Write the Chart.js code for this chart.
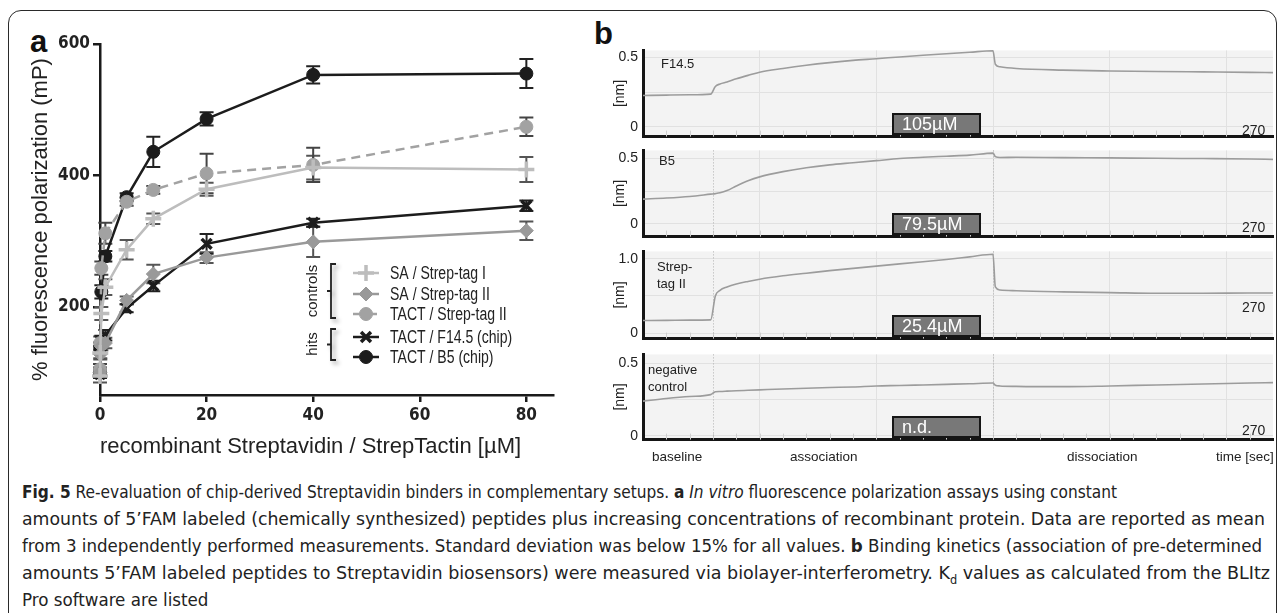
<!DOCTYPE html>
<html><head><meta charset="utf-8">
<script src="https://cdn.jsdelivr.net/npm/chart.js@4.4.1/dist/chart.umd.min.js"></script>
<style>
html,body{margin:0;padding:0;background:#fff;}
body{width:1285px;height:613px;overflow:hidden;position:relative;font-family:'Liberation Sans',Arial,sans-serif;color:#222;}
.frame{position:absolute;left:8px;top:10px;width:1267px;height:660px;border:1.6px solid #2a2a2a;border-radius:13px;}
canvas{position:absolute;}
.t{position:absolute;white-space:nowrap;line-height:1;}
.pl{font-weight:bold;font-size:31px;color:#111;}
.nm{font-size:13px;color:#222;}
.kd{position:absolute;left:892px;width:85px;height:18px;background:#787878;border:2.5px solid #151515;color:#fff;font-size:18px;line-height:18px;}
.kd span{position:absolute;left:8px;top:0px;}
.end{font-size:14px;color:#222;left:1242px;}
.bl{font-size:13.5px;color:#222;top:450px;}
.cap{position:absolute;left:22px;top:478px;font-family:'DejaVu Sans Condensed',sans-serif;font-size:18.5px;line-height:27px;color:#222;}
.cap div{white-space:nowrap;transform-origin:0 0;width:max-content;}
.cap sub{font-size:12px;line-height:0;}
</style>
</head><body>
<div class="frame"></div>
<div class="t pl" style="left:30px;top:26px;">a</div>
<div class="t pl" style="left:594px;top:18px;">b</div>
<canvas id="pa" width="570" height="470" style="left:0;top:0;"></canvas>
<canvas id="b1" width="676" height="113" style="left:600px;top:37px;"></canvas>
<canvas id="b2" width="676" height="113" style="left:600px;top:137px;"></canvas>
<canvas id="b3" width="676" height="114" style="left:600px;top:238px;"></canvas>
<canvas id="b4" width="676" height="112" style="left:600px;top:341px;"></canvas>

<div class="t nm" style="left:661px;top:57px;">F14.5</div>
<div class="t nm" style="left:659px;top:154px;">B5</div>
<div class="t nm" style="left:657px;top:260px;">Strep-</div>
<div class="t nm" style="left:657px;top:277px;">tag II</div>
<div class="t nm" style="left:648px;top:363px;">negative</div>
<div class="t nm" style="left:648px;top:380px;">control</div>

<div class="kd" style="top:113px;"><span>105µM</span></div>
<div class="kd" style="top:213px;"><span>79.5µM</span></div>
<div class="kd" style="top:315px;"><span>25.4µM</span></div>
<div class="kd" style="top:416px;"><span>n.d.</span></div>

<div class="t end" style="top:123px;">270</div>
<div class="t end" style="top:220px;">270</div>
<div class="t end" style="top:300px;">270</div>
<div class="t end" style="top:423px;">270</div>

<div class="t bl" style="left:652px;">baseline</div>
<div class="t bl" style="left:790px;">association</div>
<div class="t bl" style="left:1067px;">dissociation</div>
<div class="t bl" style="left:1216px;">time [sec]</div>

<div class="cap" id="cap">
<div data-w="1095"><b>Fig. 5</b> Re-evaluation of chip-derived Streptavidin binders in complementary setups. <b>a</b> <i>In vitro</i> fluorescence polarization assays using constant</div>
<div data-w="1243">amounts of 5’FAM labeled (chemically synthesized) peptides plus increasing concentrations of recombinant protein. Data are reported as mean</div>
<div data-w="1240">from 3 independently performed measurements. Standard deviation was below 15% for all values. <b>b</b> Binding kinetics (association of pre-determined</div>
<div data-w="1248">amounts 5’FAM labeled peptides to Streptavidin biosensors) were measured via biolayer-interferometry. K<sub>d</sub> values as calculated from the BLItz</div>
<div data-s="1">Pro software are listed</div>
</div>

<script>
// ---------- Panel a data ----------
const concX = [0, 0.05, 0.25, 1, 5, 10, 20, 40, 80];
const saStrepTag1 = [95, 130, 190, 230, 287, 334, 379, 412, 409];
const saStrepTag1Err = [10, 10, 10, 12, 15, 8, 10, 18, 19];
const saStrepTag2 = [100, 128, 140, 145, 210, 250, 275, 299, 316];
const saStrepTag2Err = [6, 6, 6, 8, 6, 14, 8, 23, 14];
const tactStrepTag2 = [105, 145, 259, 312, 360, 378, 403, 416, 474];
const tactStrepTag2Err = [8, 10, 10, 16, 6, 6, 30, 26, 14];
const tactF145 = [98, 135, 148, 157, 198, 232, 296, 328, 354];
const tactF145Err = [5, 6, 8, 8, 6, 8, 15, 6, 8];
const tactB5 = [100, 138, 223, 277, 367, 436, 486, 553, 555];
const tactB5Err = [8, 8, 10, 8, 6, 23, 10, 13, 22];
const seriesLabels = ['SA / Strep-tag I', 'SA / Strep-tag II', 'TACT / Strep-tag II', 'TACT / F14.5 (chip)', 'TACT / B5 (chip)'];
const yTicksA = [200, 400, 600];
const xTicksA = [0, 20, 40, 60, 80];

// ---------- Panel b data ----------
const sensorTime = [0,10,20,29,31,33,36,40,45,50,60,70,80,90,100,110,120,130,140,150,151,153,160,180,200,220,240,260,270];
const traceF145 = [0.225,0.228,0.23,0.235,0.29,0.308,0.322,0.345,0.37,0.393,0.42,0.443,0.462,0.478,0.49,0.503,0.515,0.526,0.537,0.548,0.45,0.432,0.42,0.408,0.402,0.398,0.395,0.392,0.39];
const traceB5 = [0.19,0.198,0.21,0.228,0.232,0.238,0.255,0.29,0.33,0.36,0.4,0.43,0.452,0.468,0.484,0.5,0.51,0.518,0.526,0.542,0.515,0.508,0.51,0.507,0.505,0.502,0.5,0.497,0.493];
const traceStrepTag2 = [0.17,0.172,0.175,0.178,0.5,0.575,0.62,0.66,0.695,0.725,0.77,0.805,0.84,0.87,0.9,0.93,0.96,0.99,1.025,1.06,0.62,0.58,0.57,0.555,0.545,0.535,0.535,0.54,0.54];
const traceNegative = [0.24,0.258,0.272,0.285,0.305,0.307,0.309,0.312,0.315,0.318,0.324,0.329,0.334,0.338,0.345,0.348,0.352,0.356,0.36,0.365,0.35,0.345,0.342,0.34,0.345,0.352,0.358,0.365,0.368];
const phaseBounds = [30, 150];
const gridTimes = [50, 100, 150, 200, 250];
const minorTimes = [10,20,30,40,50,60,70,80,90,100,110,120,130,140,150,160,170,180,190,200,210,220,230,240,250,260];

// fit caption lines to the reference widths
(function(){
  const lines = document.querySelectorAll('#cap > div');
  let sum = 0, n = 0;
  lines.forEach(d => {
    const w = +d.dataset.w;
    if (w) { const s = w / d.getBoundingClientRect().width; d.style.transform = 'scaleX(' + s + ')'; sum += s; n++; }
  });
  lines.forEach(d => { if (!d.dataset.w) d.style.transform = 'scaleX(' + (sum / n) + ')'; });
})();

const pts = (xs, ys) => xs.map((x, i) => ({x: x, y: ys[i]}));
const COND = "'DejaVu Sans Condensed','Liberation Sans',sans-serif";
const REG = "'Liberation Sans',Arial,sans-serif";

const errorBars = {
  id: 'errorBars',
  beforeDatasetsDraw(chart) {
    const ctx = chart.ctx, xs = chart.scales.x, ys = chart.scales.y;
    chart.data.datasets.forEach(ds => {
      if (!ds.errors) return;
      ctx.save();
      ctx.strokeStyle = ds.errorColor; ctx.lineWidth = 2;
      ds.data.forEach((p, i) => {
        const e = ds.errors[i]; if (!e) return;
        const px = xs.getPixelForValue(p.x);
        const y1 = ys.getPixelForValue(p.y + e), y2 = ys.getPixelForValue(p.y - e);
        ctx.beginPath();
        ctx.moveTo(px, y1); ctx.lineTo(px, y2);
        ctx.moveTo(px - 7, y1); ctx.lineTo(px + 7, y1);
        ctx.moveTo(px - 7, y2); ctx.lineTo(px + 7, y2);
        ctx.stroke();
      });
      ctx.restore();
    });
  }
};

const bracketLegend = {
  id: 'bracketLegend',
  afterDraw(chart) {
    const ctx = chart.ctx;
    const rows = [273, 294, 314, 337, 357];
    ctx.save();
    chart.data.datasets.forEach((ds, r) => {
      const y = rows[r];
      ctx.strokeStyle = ds.borderColor; ctx.lineWidth = 2.5;
      ctx.setLineDash(ds.borderDash || []);
      ctx.beginPath(); ctx.moveTo(353, y); ctx.lineTo(379, y); ctx.stroke();
      ctx.setLineDash([]);
      ctx.fillStyle = ds.pointBackgroundColor; ctx.strokeStyle = ds.pointBorderColor;
      ctx.lineWidth = ds.pointBorderWidth;
      Chart.helpers.drawPoint(ctx, {pointStyle: ds.pointStyle, radius: ds.pointRadius, rotation: 0, borderWidth: ds.pointBorderWidth}, 366, y);
      ctx.fillStyle = '#222';
      ctx.font = '18px ' + REG;
      ctx.textBaseline = 'middle'; ctx.textAlign = 'left';
      ctx.save(); ctx.translate(390, y + 1); ctx.scale(0.78, 1); ctx.fillText(ds.label, 0, 0); ctx.restore();
    });
    ctx.shadowColor = 'rgba(0,0,0,0.35)'; ctx.shadowBlur = 4; ctx.shadowOffsetX = 3; ctx.shadowOffsetY = 3;
    ctx.strokeStyle = '#222'; ctx.lineWidth = 1.8;
    const br = (y1, y2) => {
      const ym = (y1 + y2) / 2;
      ctx.beginPath();
      ctx.moveTo(336, y1); ctx.lineTo(331, y1); ctx.lineTo(331, y2); ctx.lineTo(336, y2);
      ctx.moveTo(331, ym); ctx.lineTo(327, ym);
      ctx.stroke();
    };
    br(264, 318); br(329, 360);
    ctx.shadowColor = 'transparent';
    ctx.fillStyle = '#222'; ctx.font = '15px ' + REG;
    ctx.textAlign = 'center'; ctx.textBaseline = 'middle';
    [['controls', 291], ['hits', 344]].forEach(([s, y]) => {
      ctx.save(); ctx.translate(313, y); ctx.rotate(-Math.PI / 2); ctx.fillText(s, 0, 0); ctx.restore();
    });
    ctx.restore();
  }
};

const lineW = 2.5;
const mk = (label, ys, errs, color, style, radius, bw, dash, errColor) => ({
  label: label, data: pts(concX, ys), errors: errs, errorColor: errColor,
  borderColor: color, borderWidth: lineW, borderDash: dash,
  pointStyle: style, pointRadius: radius, pointHoverRadius: radius,
  pointBackgroundColor: color, pointBorderColor: color, pointBorderWidth: bw,
  clip: false, tension: 0
});

new Chart(document.getElementById('pa'), {
  type: 'line',
  data: { datasets: [
    mk(seriesLabels[0], saStrepTag1, saStrepTag1Err, '#bdbdbd', 'cross', 8, 3.5, [], '#555'),
    mk(seriesLabels[1], saStrepTag2, saStrepTag2Err, '#999999', 'rectRot', 7, 1, [], '#555'),
    mk(seriesLabels[2], tactStrepTag2, tactStrepTag2Err, '#a2a2a2', 'circle', 6.5, 1, [9, 6], '#444'),
    mk(seriesLabels[3], tactF145, tactF145Err, '#1c1c1c', 'crossRot', 7, 3.5, [], '#222'),
    mk(seriesLabels[4], tactB5, tactB5Err, '#1c1c1c', 'circle', 6.5, 1, [], '#222')
  ]},
  options: {
    responsive: false, animation: false, events: [],
    layout: { padding: { left: 28, top: 44, right: 17, bottom: 10 } },
    plugins: { legend: { display: false }, tooltip: { enabled: false } },
    scales: {
      x: {
        type: 'linear', min: 0, max: 85,
        afterBuildTicks: s => { s.ticks = xTicksA.map(v => ({value: v})); },
        afterFit: s => { s.height = 65; },
        ticks: { font: { family: COND, size: 17, weight: 'bold' }, color: '#222', padding: 3, maxRotation: 0 },
        grid: { drawOnChartArea: false, drawTicks: true, tickLength: 7, color: '#1a1a1a', lineWidth: 2.5 },
        border: { display: true, color: '#1a1a1a', width: 2.5 },
        title: { display: true, text: 'recombinant Streptavidin / StrepTactin [µM]', align: 'start', color: '#222', font: { family: REG, size: 22 }, padding: { top: 0, bottom: 0 } }
      },
      y: {
        type: 'linear', min: 66, max: 600,
        afterBuildTicks: s => { s.ticks = yTicksA.map(v => ({value: v})); },
        afterFit: s => { s.width = 72; },
        ticks: { font: { family: COND, size: 17, weight: 'bold' }, color: '#222', padding: 3 },
        grid: { drawOnChartArea: false, drawTicks: true, tickLength: 7, color: '#1a1a1a', lineWidth: 2.5 },
        border: { display: true, color: '#1a1a1a', width: 2.5 },
        title: { display: true, text: '% fluorescence polarization (mP)', color: '#222', font: { family: REG, size: 22 }, padding: { top: 0, bottom: 0 } }
      }
    }
  },
  plugins: [errorBars, bracketLegend]
});

// ---------- Panel b ----------
const sensorDeco = {
  id: 'sensorDeco',
  beforeDraw(chart) {
    const a = chart.chartArea, ctx = chart.ctx;
    ctx.save(); ctx.fillStyle = '#f3f3f3';
    ctx.fillRect(a.left, a.top, a.right - a.left, a.bottom - a.top);
    ctx.restore();
  },
  beforeDatasetsDraw(chart) {
    const a = chart.chartArea, ctx = chart.ctx, xs = chart.scales.x;
    ctx.save();
    ctx.strokeStyle = '#cfcfcf'; ctx.lineWidth = 1;
    minorTimes.forEach(t => {
      const px = Math.round(xs.getPixelForValue(t)) + 0.5;
      ctx.beginPath(); ctx.moveTo(px, a.bottom); ctx.lineTo(px, a.bottom - 6); ctx.stroke();
    });
    if (chart.options.phaseLines) {
      ctx.strokeStyle = '#b0b0b0'; ctx.setLineDash([1, 2]);
      phaseBounds.forEach(t => {
        const px = Math.round(xs.getPixelForValue(t)) + 0.5;
        ctx.beginPath(); ctx.moveTo(px, a.top); ctx.lineTo(px, a.bottom); ctx.stroke();
      });
    }
    ctx.restore();
  }
};

function sensor(id, trace, yMin, yMax, tickVals, labelVals, fmt, phase, padTop, padBottom) {
  new Chart(document.getElementById(id), {
    type: 'line',
    data: { datasets: [{ data: pts(sensorTime, trace), borderColor: '#9c9c9c', borderWidth: 1.6, pointRadius: 0, cubicInterpolationMode: 'monotone', clip: false }] },
    options: {
      responsive: false, animation: false, events: [], phaseLines: phase,
      layout: { padding: { left: 0, top: padTop, right: 3, bottom: padBottom } },
      plugins: { legend: { display: false }, tooltip: { enabled: false } },
      scales: {
        x: {
          type: 'linear', min: 0, max: 270,
          afterBuildTicks: s => { s.ticks = gridTimes.map(v => ({value: v})); },
          afterFit: s => { s.height = 0; },
          ticks: { display: false },
          grid: { color: '#e1e1e1', drawTicks: false, lineWidth: 1 },
          border: { display: true, color: '#151515', width: 3 }
        },
        y: {
          type: 'linear', min: yMin, max: yMax,
          afterBuildTicks: s => { s.ticks = tickVals.map(v => ({value: v})); },
          afterFit: s => { s.width = 43; },
          ticks: { callback: v => labelVals.includes(v) ? fmt(v) : '', font: { family: REG, size: 14 }, color: '#222', padding: 5 },
          grid: { color: '#e1e1e1', drawTicks: false, lineWidth: 1 },
          border: { display: true, color: '#151515', width: 3 },
          title: { display: true, text: '[nm]', color: '#222', font: { family: REG, size: 14 }, padding: { top: 12, bottom: 0 } }
        }
      }
    },
    plugins: [sensorDeco]
  });
}
const f1 = v => v === 0 ? '0' : v.toFixed(1);
sensor('b1', traceF145, -0.071, 0.55, [0, 0.25, 0.5], [0, 0.5], f1, false, 9, 9);
sensor('b2', traceB5, -0.097, 0.5625, [0, 0.25, 0.5], [0, 0.5], f1, true, 9, 9);
sensor('b3', traceStrepTag2, -0.073, 1.098, [0, 0.5, 1.0], [0, 1.0], f1, true, 9, 9);
sensor('b4', traceNegative, -0.025, 0.5625, [0, 0.25, 0.5], [0, 0.5], f1, true, 9, 9);
</script>
</body></html>
